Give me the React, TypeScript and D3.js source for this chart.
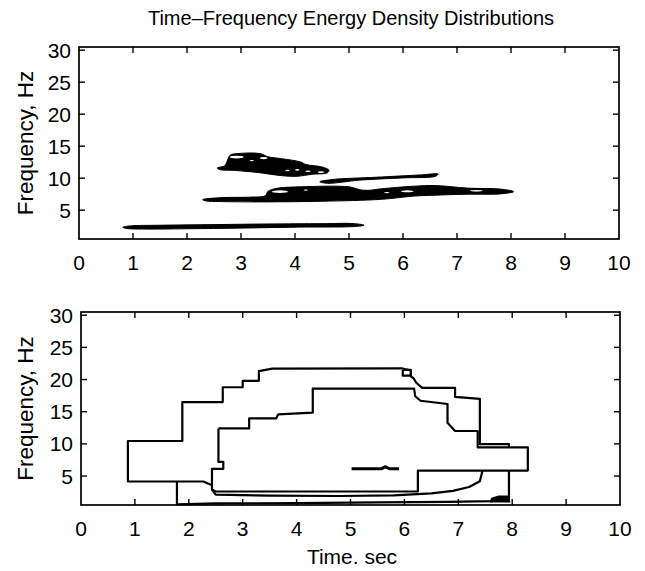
import React from 'react';
import * as d3 from 'd3';

// ---------- text ----------
const titleText = 'Time–Frequency Energy Density Distributions';
const yLabelText = 'Frequency, Hz';
const xLabelText = 'Time. sec';
const xTickValues = [0, 1, 2, 3, 4, 5, 6, 7, 8, 9, 10];
const yTickValues = [5, 10, 15, 20, 25, 30];
const xDomain: [number, number] = [0, 10];
const yDomain: [number, number] = [0.5, 30.5];

// ---------- top panel: filled contour blobs [time s, freq Hz] ----------
const blobLow: [number, number][] = [
  [0.81, 2.35], [0.95, 2.55], [1.5, 2.65], [2.5, 2.75], [3.5, 2.85], [4.5, 2.9], [5.1, 2.9], [5.28, 2.65],
  [5.1, 2.45], [4.0, 2.35], [3.0, 2.2], [2.0, 2.1], [1.2, 2.05], [0.88, 2.15],
];
const blobMid: [number, number][] = [
  [2.29, 6.65], [2.6, 6.95], [3.2, 7.05], [3.45, 7.25], [3.5, 7.95], [3.65, 8.4], [4.1, 8.65], [5.0, 8.65],
  [5.2, 8.2], [5.35, 8.1], [5.6, 8.35], [6.2, 8.75], [6.6, 8.85], [7.2, 8.45], [7.8, 8.3], [8.05, 7.9],
  [7.8, 7.55], [7.2, 7.5], [6.6, 7.35], [6.2, 7.2], [5.6, 6.7], [4.5, 6.4], [3.5, 6.3], [2.6, 6.35], [2.35, 6.45],
];
const blobTen: [number, number][] = [
  [4.46, 9.45], [4.7, 9.8], [5.5, 10.15], [6.3, 10.5], [6.65, 10.65], [6.6, 10.3], [6.0, 10.05], [5.2, 9.7], [4.6, 9.2],
];
const blobHigh: [number, number][] = [
  [2.56, 11.6], [2.7, 11.95], [2.74, 12.6], [2.8, 13.6], [2.95, 13.85], [3.35, 13.85], [3.5, 13.35], [3.75, 13.05],
  [4.1, 12.55], [4.2, 12.15], [4.5, 11.75], [4.63, 11.25], [4.6, 10.85], [4.3, 10.6], [4.05, 10.3], [3.75, 10.4],
  [3.3, 10.9], [2.9, 11.2], [2.6, 11.35],
];
// gaps between nested contour levels: [time, freq, half-width s, half-height Hz]
const contourGaps: [number, number, number, number][] = [
  [2.92, 13.3, 0.13, 0.22], [3.42, 13.15, 0.07, 0.18], [3.2, 12.75, 0.04, 0.1],
  [3.86, 11.2, 0.04, 0.12], [4.04, 11.3, 0.04, 0.12], [4.24, 11.1, 0.05, 0.12], [4.48, 10.95, 0.06, 0.14],
  [3.72, 7.9, 0.15, 0.2], [4.2, 8.15, 0.04, 0.1], [5.7, 7.75, 0.05, 0.1], [6.08, 7.95, 0.12, 0.15],
  [7.36, 8.05, 0.12, 0.12],
];

// ---------- bottom panel: contour lines [time s, freq Hz] ----------
const contourOuter: [number, number][] = [
  [2.42, 3.6], [2.27, 4.15], [0.87, 4.15], [0.87, 10.45], [1.88, 10.45], [1.88, 16.5], [2.63, 16.5], [2.63, 18.8],
  [3.0, 18.8], [3.0, 19.8], [3.3, 19.8], [3.3, 21.3], [3.55, 21.7], [5.95, 21.75], [6.12, 21.4], [6.12, 20.5],
  [6.17, 20.2], [6.22, 19.5], [6.33, 18.7], [6.94, 18.7], [6.94, 17.3], [7.4, 17.0], [7.4, 9.95], [7.94, 9.95], [7.94, 9.45],
];
const contourSquare: [number, number][] = [
  [5.97, 21.5], [6.12, 21.5], [6.12, 20.6], [5.97, 20.6], [5.97, 21.5],
];
const contourInner: [number, number][] = [
  [2.55, 12.4], [3.12, 12.4], [3.12, 13.95], [3.62, 13.95], [3.66, 14.6], [4.3, 14.85], [4.3, 18.6], [6.18, 18.6],
  [6.2, 17.4], [6.3, 16.7], [6.8, 16.2], [6.8, 13.3], [6.94, 12.0], [7.36, 12.0], [7.36, 9.45], [8.29, 9.45],
  [8.29, 5.85], [6.25, 5.85], [6.25, 2.6], [2.5, 2.6], [2.43, 2.9], [2.43, 6.1], [2.64, 6.1], [2.64, 7.2],
  [2.55, 7.2], [2.55, 12.4],
];
const contourLow: [number, number][] = [
  [1.78, 4.15], [1.78, 0.6], [2.5, 0.75], [4.0, 0.8], [5.5, 0.9], [6.8, 1.0], [7.6, 1.1], [7.94, 1.3], [7.94, 5.85],
];
const contourMidLow: [number, number][] = [
  [2.43, 2.9], [2.5, 2.1], [3.5, 1.95], [4.8, 1.9], [5.8, 2.0], [6.5, 2.3], [6.9, 2.7], [7.2, 3.3], [7.4, 4.2], [7.45, 5.85],
];
const contourSpot: [number, number][] = [
  [7.6, 1.0], [7.62, 1.55], [7.75, 1.85], [7.93, 1.85], [7.95, 1.0],
];
const contourDash: [number, number][] = [
  [5.02, 6.15], [5.58, 6.15], [5.64, 6.45], [5.72, 6.15], [5.9, 6.15],
];

const FONT = '"Liberation Sans", Arial, Helvetica, sans-serif';

type Box = { left: number; right: number; top: number; bottom: number };

function Axes({ box, children }: { box: Box; children: (x: d3.ScaleLinear<number, number>, y: d3.ScaleLinear<number, number>) => React.ReactNode }) {
  const x = d3.scaleLinear().domain(xDomain).range([box.left, box.right]);
  const y = d3.scaleLinear().domain(yDomain).range([box.bottom, box.top]);
  const tl = 6;
  return (
    <g>
      {children(x, y)}
      <rect x={box.left} y={box.top} width={box.right - box.left} height={box.bottom - box.top}
        fill="none" stroke="#000" strokeWidth={1.7} />
      {xTickValues.filter(v => v > 0 && v < 10).map(v => (
        <g key={'xt' + v}>
          <line x1={x(v)} x2={x(v)} y1={box.bottom} y2={box.bottom - tl} stroke="#000" strokeWidth={1.4} />
          <line x1={x(v)} x2={x(v)} y1={box.top} y2={box.top + tl} stroke="#000" strokeWidth={1.4} />
        </g>
      ))}
      {yTickValues.map(v => (
        <g key={'yt' + v}>
          <line x1={box.left} x2={box.left + tl} y1={y(v)} y2={y(v)} stroke="#000" strokeWidth={1.4} />
          <line x1={box.right} x2={box.right - tl} y1={y(v)} y2={y(v)} stroke="#000" strokeWidth={1.4} />
        </g>
      ))}
      {xTickValues.map(v => (
        <text key={'xl' + v} x={x(v)} y={box.bottom + 31} textAnchor="middle" fontSize={21} fontFamily={FONT}>{v}</text>
      ))}
      {yTickValues.map(v => (
        <text key={'yl' + v} x={box.left - 8} y={y(v)} dy="0.36em" textAnchor="end" fontSize={21} fontFamily={FONT}>{v}</text>
      ))}
      <text transform={`translate(25,${(box.top + box.bottom) / 2}) rotate(-90)`} dy="0.36em" textAnchor="middle"
        fontSize={22.5} fontFamily={FONT}>{yLabelText}</text>
    </g>
  );
}

export default function App() {
  const topBox: Box = { left: 79, right: 619, top: 47, bottom: 239 };
  const botBox: Box = { left: 81, right: 620, top: 312, bottom: 505 };
  const blobs = [blobLow, blobMid, blobTen, blobHigh];
  const lines = [contourOuter, contourSquare, contourInner, contourLow, contourMidLow];
  return (
    <svg width={645} height={571} style={{ position: 'absolute', left: 0, top: 0, background: '#fff' }}>
      <rect width={645} height={571} fill="#fff" />
      <text x={351} y={25} textAnchor="middle" fontSize={20} fontFamily={FONT}>{titleText}</text>
      <Axes box={topBox}>
        {(x, y) => {
          const area = d3.line<[number, number]>().x(d => x(d[0])).y(d => y(d[1])).curve(d3.curveCatmullRomClosed.alpha(0.5));
          return (
            <g>
              {blobs.map((b, i) => <path key={i} d={area(b) || ''} fill="#000" stroke="#000" strokeWidth={1} />)}
              {contourGaps.map((g, i) => (
                <ellipse key={'g' + i} cx={x(g[0])} cy={y(g[1])} rx={x(g[0] + g[2]) - x(g[0])} ry={y(g[1]) - y(g[1] + g[3])} fill="#fff" />
              ))}
            </g>
          );
        }}
      </Axes>
      <Axes box={botBox}>
        {(x, y) => {
          const line = d3.line<[number, number]>().x(d => x(d[0])).y(d => y(d[1]));
          return (
            <g>
              {lines.map((l, i) => <path key={i} d={line(l) || ''} fill="none" stroke="#000" strokeWidth={2.2} strokeLinejoin="round" />)}
              <path d={(line(contourSpot) || '') + 'Z'} fill="#000" stroke="#000" strokeWidth={1.5} />
              <path d={line(contourDash) || ''} fill="none" stroke="#000" strokeWidth={3} strokeLinejoin="round" />
            </g>
          );
        }}
      </Axes>
      <text x={352} y={564} textAnchor="middle" fontSize={21} fontFamily={FONT}>{xLabelText}</text>
    </svg>
  );
}
